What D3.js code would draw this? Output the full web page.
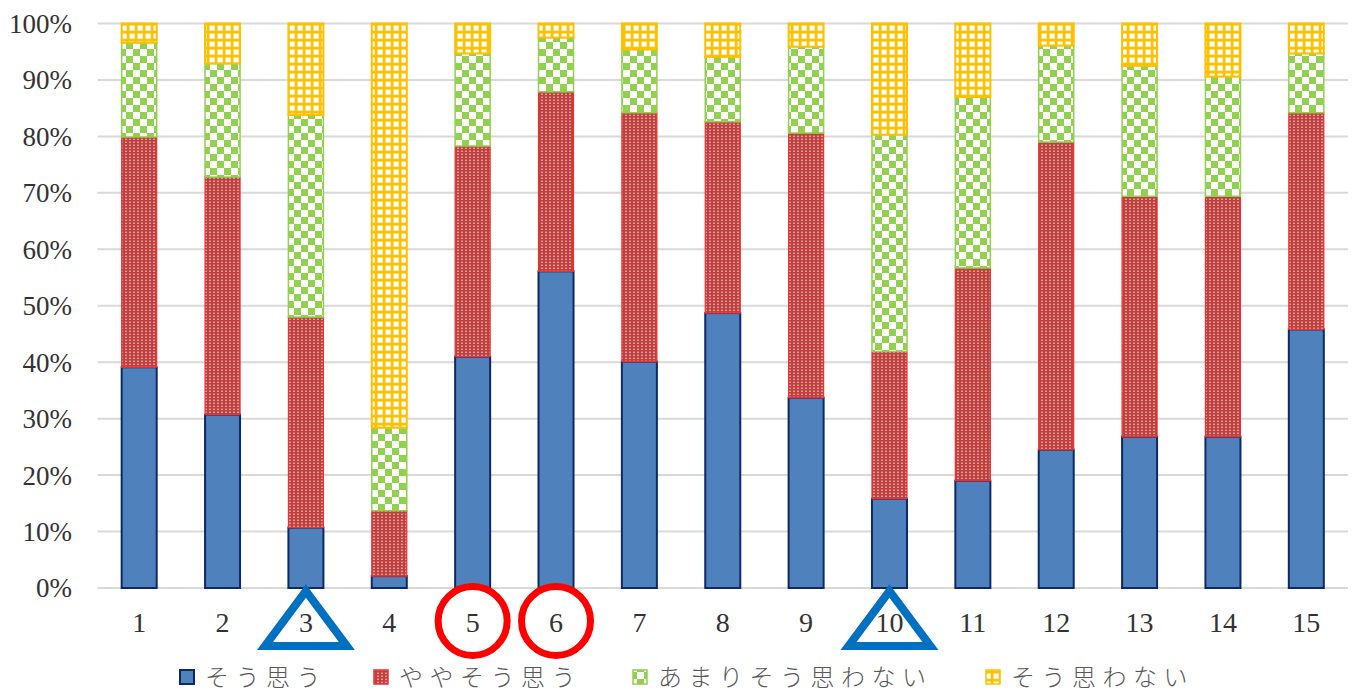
<!DOCTYPE html>
<html><head><meta charset="utf-8">
<script src="https://cdn.jsdelivr.net/npm/d3@7"></script>
<style>html,body{margin:0;padding:0;background:#fff;}svg{display:block;}</style>
</head><body>
<svg id="chart" width="1354" height="693"></svg>
<script>
const categories = ["1","2","3","4","5","6","7","8","9","10","11","12","13","14","15"];
const seriesNames = ["そう思う","ややそう思う","あまりそう思わない","そう思わない"];
const souOmou     = [39.1,30.7,10.7,2.1,41.0,56.1,40.1,48.7,33.7,15.8,19.0,24.5,26.8,26.8,45.8];
const yayaSouOmou = [40.8,42.1,37.3,11.6,37.3,31.8,44.1,33.9,46.9,26.1,37.7,54.5,42.6,42.6,38.4];
const amariSou    = [16.7,20.1,35.8,14.7,16.4,9.6,11.2,11.5,15.3,38.4,30.3,17.1,23.1,21.2,10.5];
const souOmowanai = [3.4,7.1,16.2,71.6,5.3,2.5,4.6,5.9,4.1,19.7,13.0,3.9,7.5,9.4,5.3];
const yTicks = [0,10,20,30,40,50,60,70,80,90,100];
const triangleCats = ["3","10"];
const circleCats = ["5","6"];

(function(){
const svg = d3.select("#chart");
const pLeft = 97.5, pRight = 1348, pTop = 23.5, pBottom = 588;

const x = d3.scaleBand().domain(categories).range([pLeft, pRight]).paddingInner(0.58).paddingOuter(0.29);
const y = d3.scaleLinear().domain([0,100]).range([pBottom, pTop]);

// patterns
const defs = svg.append("defs");
const pr = defs.append("pattern").attr("id","pRed").attr("patternUnits","userSpaceOnUse").attr("width",4).attr("height",3);
pr.append("rect").attr("width",4).attr("height",3).attr("fill","#C0403E");
pr.append("rect").attr("x",1.2).attr("y",0.6).attr("width",1.6).attr("height",1.4).attr("fill","#fff").attr("opacity",0.6);
const pg = defs.append("pattern").attr("id","pGreen").attr("patternUnits","userSpaceOnUse").attr("width",14).attr("height",14);
pg.append("rect").attr("width",14).attr("height",14).attr("fill","#fff");
pg.append("rect").attr("width",7).attr("height",7).attr("fill","#92D050");
pg.append("rect").attr("x",7).attr("y",7).attr("width",7).attr("height",7).attr("fill","#92D050");
const py = defs.append("pattern").attr("id","pYellow").attr("patternUnits","userSpaceOnUse").attr("width",8).attr("height",8);
py.append("rect").attr("width",8).attr("height",8).attr("fill","#FFC000");
py.append("rect").attr("x",1.5).attr("y",1.5).attr("width",5.2).attr("height",5.2).attr("fill","#fff");

const styles = [
  {fill:"#4F81BD", stroke:"#0E2A66", sw:2},
  {fill:"url(#pRed)", stroke:"#F03030", sw:1.2},
  {fill:"url(#pGreen)", stroke:"#92D050", sw:1.5},
  {fill:"url(#pYellow)", stroke:"#FFC000", sw:2}
];

// gridlines
svg.append("g").selectAll("line").data(yTicks).join("line")
  .attr("x1",pLeft).attr("x2",pRight).attr("y1",d=>y(d)).attr("y2",d=>y(d))
  .attr("stroke","#D9D9D9").attr("stroke-width",2);

// y labels
svg.append("g").selectAll("text").data(yTicks).join("text")
  .attr("x",72).attr("y",d=>y(d)).attr("dy","0.35em").attr("text-anchor","end")
  .attr("font-family","'Liberation Serif', 'DejaVu Serif', serif").attr("font-size",27).attr("fill","#333")
  .text(d=>d+"%");

// stack
const table = categories.map((c,i)=>({cat:c, s0:souOmou[i], s1:yayaSouOmou[i], s2:amariSou[i], s3:souOmowanai[i]}));
const stack = d3.stack().keys(["s0","s1","s2","s3"])(table);

const gBars = svg.append("g");
stack.forEach((layer, li) => {
  gBars.append("g").selectAll("rect").data(layer).join("rect")
    .attr("x", d=>x(d.data.cat)).attr("width", x.bandwidth())
    .attr("y", d=>y(d[1])).attr("height", d=>y(d[0])-y(d[1]))
    .attr("fill", styles[li].fill).attr("stroke", styles[li].stroke).attr("stroke-width", styles[li].sw);
});

// x labels
svg.append("g").selectAll("text").data(categories).join("text")
  .attr("x", d=>x(d)+x.bandwidth()/2).attr("y", 632).attr("text-anchor","middle")
  .attr("font-family","'Liberation Serif', 'DejaVu Serif', serif").attr("font-size",28).attr("fill","#333")
  .text(d=>d);

// annotations
const ann = svg.append("g");
triangleCats.forEach(c=>{
  const cx = x(c)+x.bandwidth()/2;
  ann.append("path").attr("d", `M${cx},591 L${cx-41},646 L${cx+41},646 Z`)
    .attr("fill","none").attr("stroke","#0070C0").attr("stroke-width",8).attr("stroke-linejoin","miter");
});
circleCats.forEach(c=>{
  const cx = x(c)+x.bandwidth()/2;
  ann.append("circle").attr("cx",cx).attr("cy",621).attr("r",34.5)
    .attr("fill","none").attr("stroke","#FF0000").attr("stroke-width",7);
});

// legend
const legendX = [179, 373, 632, 985];
const lg = svg.append("g");
seriesNames.forEach((name,i)=>{
  lg.append("rect").attr("x",legendX[i]+1).attr("y",670).attr("width",14).attr("height",14)
    .attr("fill",styles[i].fill).attr("stroke",styles[i].stroke).attr("stroke-width",i===0?2:1.5);
  lg.append("text").attr("x",legendX[i]+26).attr("y",675).attr("dominant-baseline","central")
    .attr("font-family","'Noto Sans CJK JP', sans-serif").attr("font-weight",300).attr("font-size",24)
    .attr("letter-spacing","6.5px").attr("fill","#595959").text(name);
});
})();
</script>
</body></html>
